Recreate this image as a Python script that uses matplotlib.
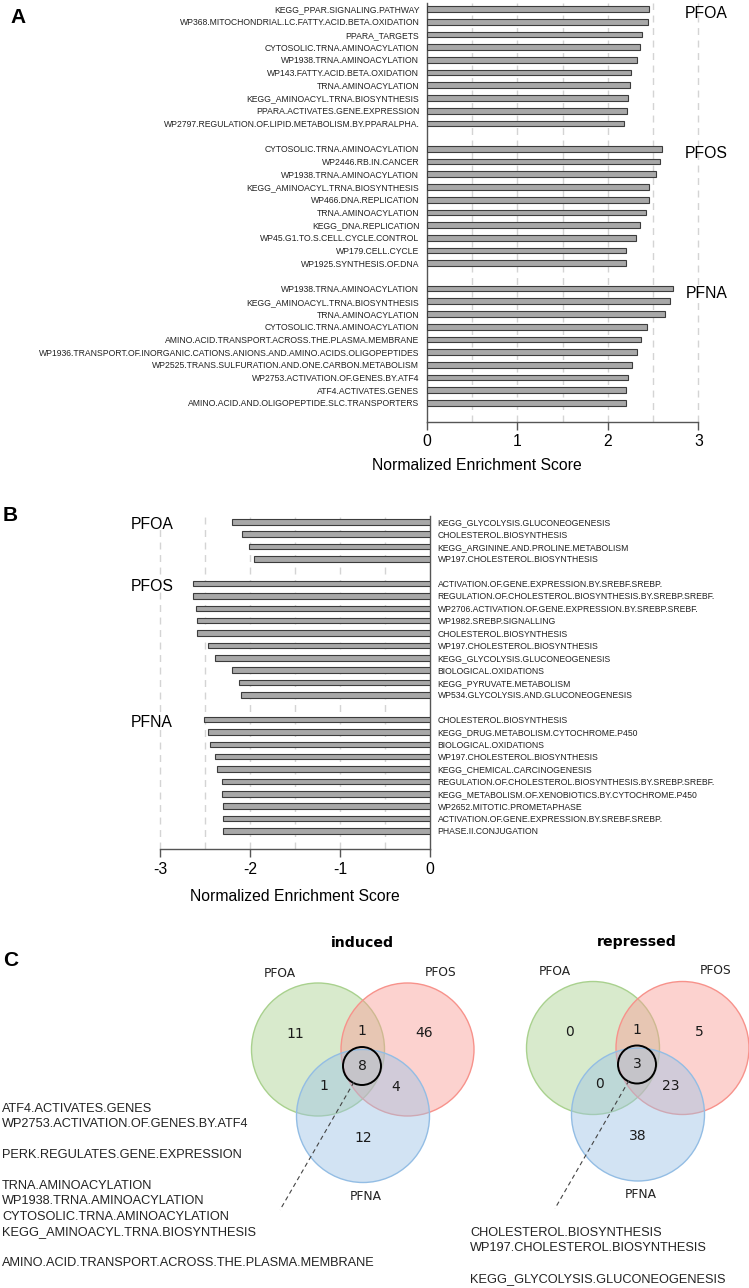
import numpy as np
import matplotlib.pyplot as plt
from matplotlib.patches import Circle

plt.rcParams['font.family'] = ['Liberation Sans', 'DejaVu Sans']
plt.rcParams['axes.unicode_minus'] = False

W, H = 749, 1288

# --- Panel A: induced pathways (positive NES) ---
groups = ['PFOA', 'PFOS', 'PFNA']
up_terms_pfoa = ['KEGG_PPAR.SIGNALING.PATHWAY', 'WP368.MITOCHONDRIAL.LC.FATTY.ACID.BETA.OXIDATION',
                 'PPARA_TARGETS', 'CYTOSOLIC.TRNA.AMINOACYLATION', 'WP1938.TRNA.AMINOACYLATION',
                 'WP143.FATTY.ACID.BETA.OXIDATION', 'TRNA.AMINOACYLATION', 'KEGG_AMINOACYL.TRNA.BIOSYNTHESIS',
                 'PPARA.ACTIVATES.GENE.EXPRESSION', 'WP2797.REGULATION.OF.LIPID.METABOLISM.BY.PPARALPHA.']
up_nes_pfoa = [2.46, 2.44, 2.38, 2.36, 2.32, 2.26, 2.24, 2.22, 2.21, 2.18]
up_terms_pfos = ['CYTOSOLIC.TRNA.AMINOACYLATION', 'WP2446.RB.IN.CANCER', 'WP1938.TRNA.AMINOACYLATION',
                 'KEGG_AMINOACYL.TRNA.BIOSYNTHESIS', 'WP466.DNA.REPLICATION', 'TRNA.AMINOACYLATION',
                 'KEGG_DNA.REPLICATION', 'WP45.G1.TO.S.CELL.CYCLE.CONTROL', 'WP179.CELL.CYCLE',
                 'WP1925.SYNTHESIS.OF.DNA']
up_nes_pfos = [2.60, 2.58, 2.53, 2.45, 2.45, 2.42, 2.35, 2.31, 2.20, 2.20]
up_terms_pfna = ['WP1938.TRNA.AMINOACYLATION', 'KEGG_AMINOACYL.TRNA.BIOSYNTHESIS', 'TRNA.AMINOACYLATION',
                 'CYTOSOLIC.TRNA.AMINOACYLATION', 'AMINO.ACID.TRANSPORT.ACROSS.THE.PLASMA.MEMBRANE',
                 'WP1936.TRANSPORT.OF.INORGANIC.CATIONS.ANIONS.AND.AMINO.ACIDS.OLIGOPEPTIDES',
                 'WP2525.TRANS.SULFURATION.AND.ONE.CARBON.METABOLISM', 'WP2753.ACTIVATION.OF.GENES.BY.ATF4',
                 'ATF4.ACTIVATES.GENES', 'AMINO.ACID.AND.OLIGOPEPTIDE.SLC.TRANSPORTERS']
up_nes_pfna = [2.72, 2.69, 2.63, 2.43, 2.37, 2.32, 2.27, 2.22, 2.20, 2.20]

# --- Panel B: repressed pathways (negative NES) ---
dn_terms_pfoa = ['KEGG_GLYCOLYSIS.GLUCONEOGENESIS', 'CHOLESTEROL.BIOSYNTHESIS',
                 'KEGG_ARGININE.AND.PROLINE.METABOLISM', 'WP197.CHOLESTEROL.BIOSYNTHESIS']
dn_nes_pfoa = [-2.20, -2.09, -2.01, -1.96]
dn_terms_pfos = ['ACTIVATION.OF.GENE.EXPRESSION.BY.SREBF.SREBP.',
                 'REGULATION.OF.CHOLESTEROL.BIOSYNTHESIS.BY.SREBP.SREBF.',
                 'WP2706.ACTIVATION.OF.GENE.EXPRESSION.BY.SREBP.SREBF.', 'WP1982.SREBP.SIGNALLING',
                 'CHOLESTEROL.BIOSYNTHESIS', 'WP197.CHOLESTEROL.BIOSYNTHESIS', 'KEGG_GLYCOLYSIS.GLUCONEOGENESIS',
                 'BIOLOGICAL.OXIDATIONS', 'KEGG_PYRUVATE.METABOLISM', 'WP534.GLYCOLYSIS.AND.GLUCONEOGENESIS']
dn_nes_pfos = [-2.63, -2.63, -2.60, -2.59, -2.59, -2.47, -2.39, -2.20, -2.12, -2.10]
dn_terms_pfna = ['CHOLESTEROL.BIOSYNTHESIS', 'KEGG_DRUG.METABOLISM.CYTOCHROME.P450', 'BIOLOGICAL.OXIDATIONS',
                 'WP197.CHOLESTEROL.BIOSYNTHESIS', 'KEGG_CHEMICAL.CARCINOGENESIS',
                 'REGULATION.OF.CHOLESTEROL.BIOSYNTHESIS.BY.SREBP.SREBF.',
                 'KEGG_METABOLISM.OF.XENOBIOTICS.BY.CYTOCHROME.P450', 'WP2652.MITOTIC.PROMETAPHASE',
                 'ACTIVATION.OF.GENE.EXPRESSION.BY.SREBF.SREBP.', 'PHASE.II.CONJUGATION']
dn_nes_pfna = [-2.51, -2.47, -2.44, -2.39, -2.37, -2.31, -2.31, -2.30, -2.30, -2.30]

# --- Panel C: Venn counts (A only, A&B, B only, A&B&C, A&C, B&C, C only) ---
induced_counts = [11, 1, 46, 8, 1, 4, 12]
repressed_counts = [0, 1, 5, 3, 0, 23, 38]
induced_shared = [['ATF4.ACTIVATES.GENES', 'WP2753.ACTIVATION.OF.GENES.BY.ATF4'],
                  ['PERK.REGULATES.GENE.EXPRESSION'],
                  ['TRNA.AMINOACYLATION', 'WP1938.TRNA.AMINOACYLATION', 'CYTOSOLIC.TRNA.AMINOACYLATION',
                   'KEGG_AMINOACYL.TRNA.BIOSYNTHESIS'],
                  ['AMINO.ACID.TRANSPORT.ACROSS.THE.PLASMA.MEMBRANE']]
repressed_shared = [['CHOLESTEROL.BIOSYNTHESIS', 'WP197.CHOLESTEROL.BIOSYNTHESIS'],
                    ['KEGG_GLYCOLYSIS.GLUCONEOGENESIS']]

BAR = '#a8a8a8'
EDGE = '#3c3c3c'
SPINE = '#555555'
GRID = '#d4d4d4'


def px_axes(fig, left, top, right, bottom):
    return fig.add_axes([left / W, 1 - bottom / H, (right - left) / W, (bottom - top) / H])


def group_rows(sizes):
    rows, start = [], 0
    for n in sizes:
        rows.append(np.arange(start, start + n))
        start += n + 1
    return rows, start - 1


fig = plt.figure(figsize=(W / 100, H / 100), dpi=100)

# ================= Panel A =================
axA = px_axes(fig, 427, 2.75, 698.3, 422)
termsA = [up_terms_pfoa, up_terms_pfos, up_terms_pfna]
nesA = [up_nes_pfoa, up_nes_pfos, up_nes_pfna]
rowsA, nA = group_rows([len(t) for t in termsA])
for r, v in zip(rowsA, nesA):
    axA.barh(r, v, height=0.45, color=BAR, edgecolor=EDGE, linewidth=0.8, zorder=3)
for g, r in zip(groups, rowsA):
    axA.text(3.09, r[0] + 0.35, g, fontsize=11.3, ha='center', va='center', clip_on=False)
axA.set_yticks(np.concatenate(rowsA))
axA.set_yticklabels(sum(termsA, []), fontsize=6.2, color='#222222')
axA.set_ylim(nA + 0.5, -0.5)
axA.set_xlim(0, 3)
axA.set_xticks([0, 1, 2, 3])
for gx in np.arange(0.5, 3.01, 0.5):
    axA.axvline(gx, color=GRID, linestyle=(0, (5, 4)), linewidth=1, zorder=0, clip_on=False)
axA.tick_params(axis='y', length=0, pad=5.5)
axA.tick_params(axis='x', length=6, width=1, color=SPINE, labelsize=11.3, pad=3)
for s in ['top', 'right']:
    axA.spines[s].set_visible(False)
for s in ['left', 'bottom']:
    axA.spines[s].set_color(SPINE)
    axA.spines[s].set_linewidth(1)
fig.text(372 / W, 1 - 466 / H, 'Normalized Enrichment Score', fontsize=11.3, ha='left', va='center')

# ================= Panel B =================
axB = px_axes(fig, 160, 515.6, 430, 849.4)
termsB = [dn_terms_pfoa, dn_terms_pfos, dn_terms_pfna]
nesB = [dn_nes_pfoa, dn_nes_pfos, dn_nes_pfna]
rowsB, nB = group_rows([len(t) for t in termsB])
for r, v in zip(rowsB, nesB):
    axB.barh(r, v, height=0.45, color=BAR, edgecolor=EDGE, linewidth=0.8, zorder=3)
for g, r in zip(groups, rowsB):
    axB.text(-3.33, r[0] + 0.25, g, fontsize=11.3, ha='left', va='center', clip_on=False)
axB.yaxis.tick_right()
axB.set_yticks(np.concatenate(rowsB))
axB.set_yticklabels(sum(termsB, []), fontsize=6.2, color='#222222')
axB.set_ylim(nB + 0.5, -0.5)
axB.set_xlim(-3, 0)
axB.set_xticks([-3, -2, -1, 0])
for gx in np.arange(-3, -0.49, 0.5):
    axB.axvline(gx, color=GRID, linestyle=(0, (5, 4)), linewidth=1, zorder=0, clip_on=False)
axB.tick_params(axis='y', length=0, pad=5.5)
axB.tick_params(axis='x', length=6, width=1, color=SPINE, labelsize=11.3, pad=3)
for s in ['top', 'left']:
    axB.spines[s].set_visible(False)
for s in ['right', 'bottom']:
    axB.spines[s].set_color(SPINE)
    axB.spines[s].set_linewidth(1)
axB.set_xlabel('Normalized Enrichment Score', fontsize=11.3, labelpad=9)

# ================= Panel C (pixel overlay) =================
axC = fig.add_axes([0, 0, 1, 1], facecolor='none')
axC.set_xlim(0, W)
axC.set_ylim(H, 0)
axC.axis('off')

venn_fill = ['#a9d18e', '#fa9c95', '#9dc3e6']
venn_edge = ['#a9d18e', '#f7928b', '#93bde4']
circle_off = [(-44, -16.5), (45.5, -16.5), (1, 50)]
count_off = [(-67, -32), (0, -35), (62, -33), (0, 0), (-38, 20), (34, 21), (1, 72)]
label_off = [(-82, -93), (79, -94), (4, 130)]


def venn(cx, cy, counts, title):
    for (dx, dy), fc, ec in zip(circle_off, venn_fill, venn_edge):
        axC.add_patch(Circle((cx + dx, cy + dy), 66.5, facecolor=fc, edgecolor='none', alpha=0.45))
        axC.add_patch(Circle((cx + dx, cy + dy), 66.5, facecolor='none', edgecolor=ec, linewidth=1))
    axC.add_patch(Circle((cx, cy), 19, facecolor='none', edgecolor='black', linewidth=1.4))
    for (dx, dy), c in zip(count_off, counts):
        axC.text(cx + dx, cy + dy, str(c), family='DejaVu Sans', fontsize=10, ha='center', va='center',
                 color='#1a1a1a')
    for (dx, dy), g in zip(label_off, groups):
        axC.text(cx + dx, cy + dy, g, family='DejaVu Sans', fontsize=8.8, ha='center', va='center',
                 color='#222222')
    axC.text(cx, cy - 123, title, family='DejaVu Sans', fontsize=10.2, fontweight='bold',
             ha='center', va='center')
    axC.plot([cx - 8, cx - 82], [cy + 16, cy + 144], color='#444444', linestyle=(0, (4, 3)),
             linewidth=0.8)


venn(362, 1066, induced_counts, 'induced')
venn(637, 1064.5, repressed_counts, 'repressed')


def term_list(x, y0, blocks):
    i = 0
    for b in blocks:
        for t in b:
            axC.text(x, y0 + i * 15.4, t, fontsize=9.2, ha='left', va='center', color='#222222')
            i += 1
        i += 1


term_list(2, 1109, induced_shared)
term_list(470, 1232.7, repressed_shared)

# panel letters
for letter, x, y in [('A', 10, 17), ('B', 3, 515), ('C', 3, 960)]:
    axC.text(x, y, letter, fontsize=15, fontweight='bold', ha='left', va='center')

fig.savefig('out.png', dpi=100)
